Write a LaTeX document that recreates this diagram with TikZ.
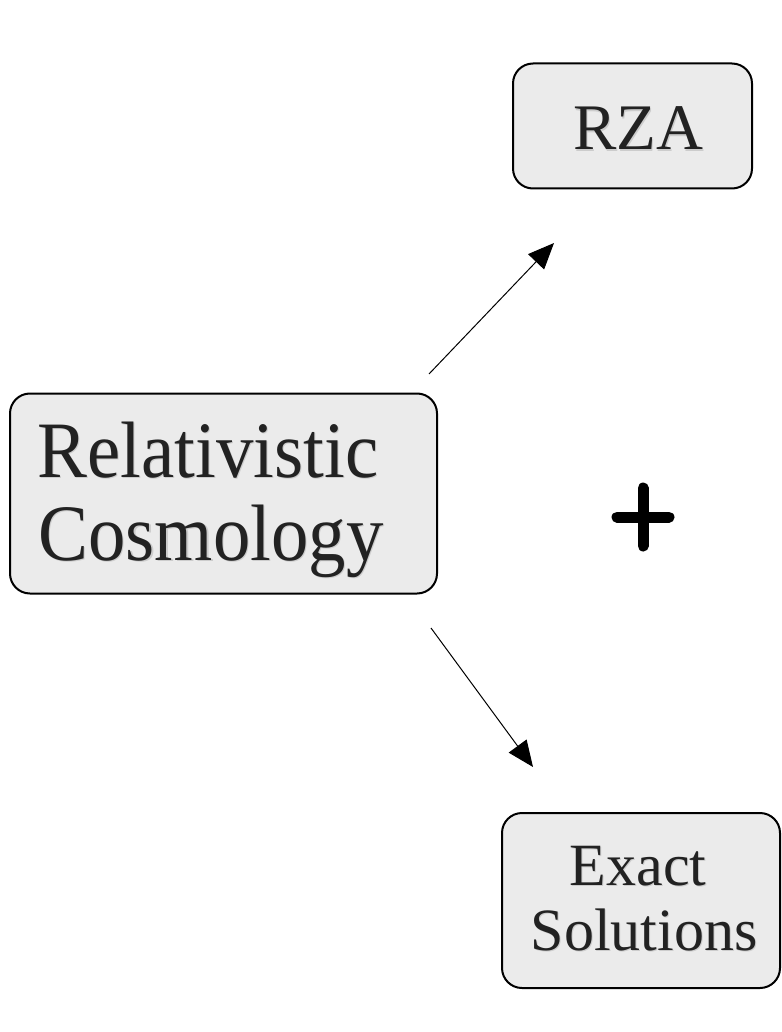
\documentclass[tikz,border=0pt]{standalone}
\usepackage{fontspec}
\setmainfont{Liberation Serif}
\usetikzlibrary{arrows.meta}
\definecolor{boxfill}{HTML}{EBEBEB}
\definecolor{txt}{HTML}{222222}
\definecolor{shade}{HTML}{A8A8A8}
\tikzset{
  roundbox/.style={draw=black, line width=2pt, fill=boxfill, rounded corners=20pt, inner sep=0pt},
  label text/.style={text=txt, align=center, inner sep=0pt, anchor=base},
  shadow text/.style={text=shade, opacity=0.45, align=center, inner sep=0pt, anchor=base},
  conn/.style={draw=black, line width=1pt, -{Triangle[length=26pt,width=22pt]}},
  plusbar/.style={line width=11pt, line cap=round},
  bigfont/.style={font=\fontsize{80}{83}\selectfont},
  midfont/.style={font=\fontsize{65}{67}\selectfont},
  smallfont/.style={font=\fontsize{60}{65}\selectfont},
}
\newcommand{\narrowtxt}[1]{\scalebox{0.935}[1]{#1}}
\begin{document}
\begin{tikzpicture}[x=1pt,y=-1pt]
\useasboundingbox (0,0) rectangle (781,1032);
% boxes
\node[roundbox, minimum width=239pt, minimum height=125pt] (rza) at (632.5,126) {};
\node[roundbox, minimum width=427pt, minimum height=200pt] (rc) at (223.5,493.5) {};
\node[roundbox, minimum width=278pt, minimum height=175pt] (ex) at (641,900.5) {};
% text shadows
\node[shadow text, midfont] (rzas) at (639.2,151.2) {RZA};
\node[shadow text, bigfont] (rcs1) at (209.2,478.2) {\narrowtxt{Relativistic}};
\node[shadow text, bigfont] (rcs2) at (212.2,561.2) {\narrowtxt{Cosmology}};
\node[shadow text, smallfont] (exs1) at (639.2,886.2) {Exact};
\node[shadow text, smallfont] (exs2) at (645.2,951.2) {Solutions};
% texts
\node[label text, midfont] (rzat) at (638,150) {RZA};
\node[label text, bigfont] (rct1) at (208,477) {\narrowtxt{Relativistic}};
\node[label text, bigfont] (rct2) at (211,560) {\narrowtxt{Cosmology}};
\node[label text, smallfont] (ext1) at (638,885) {Exact};
\node[label text, smallfont] (ext2) at (644,950) {Solutions};
% plus
\node[inner sep=0pt] (plus) at (643,517) {};
\draw[plusbar] ([yshift=-29pt]plus.center) -- ([yshift=29pt]plus.center);
\draw[plusbar] ([xshift=-26pt]plus.center) -- ([xshift=26pt]plus.center);
% connectors
\coordinate (a1s) at (429,374);
\coordinate (a1e) at (554,243);
\coordinate (a2s) at (431,628);
\coordinate (a2e) at (533,767);
\draw[conn] (a1s) -- (a1e);
\draw[conn] (a2s) -- (a2e);
\end{tikzpicture}
\end{document}
